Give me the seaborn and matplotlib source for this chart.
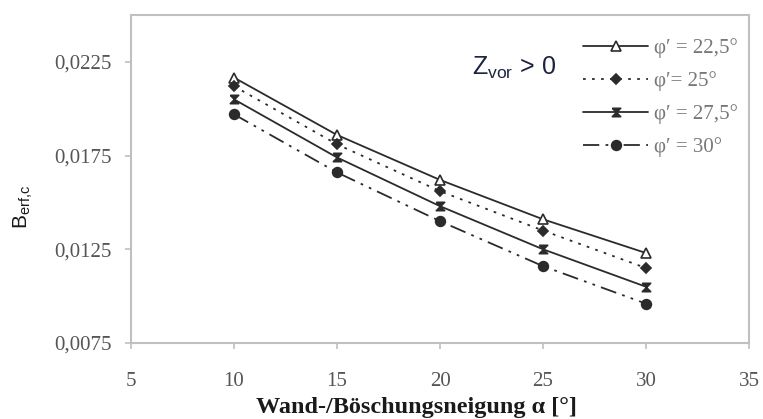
import matplotlib
matplotlib.use("Agg")
import matplotlib.pyplot as plt
import seaborn as sns
import pandas as pd
from matplotlib.ticker import FuncFormatter

# --- Data ---
alpha = [10, 15, 20, 25, 30]
b_phi_225 = [0.02166, 0.0186, 0.0162, 0.0141, 0.0123]
b_phi_25 = [0.0212, 0.0181, 0.0156, 0.0135, 0.0115]
b_phi_275 = [0.0205, 0.0174, 0.0148, 0.0125, 0.0105]
b_phi_30 = [0.0197, 0.0166, 0.0140, 0.0116, 0.0096]
labels = ["φ′ = 22,5°", "φ′= 25°", "φ′ = 27,5°", "φ′ = 30°"]
x_ticks = [5, 10, 15, 20, 25, 30, 35]
y_ticks = [0.0075, 0.0125, 0.0175, 0.0225]

sns.set_style("ticks")
plt.rcParams['font.family'] = ['Liberation Serif', 'DejaVu Serif']
plt.rcParams['mathtext.fontset'] = 'custom'
plt.rcParams['mathtext.rm'] = 'Liberation Sans'

fig = plt.figure(figsize=(7.63, 4.19), dpi=100)
ax = fig.add_axes([0.1717, 0.1814, 0.81, 0.7828])

line_col = "#2b2b2b"
hourglass = [(-1, 1), (1, 1), (-1, -1), (1, -1), (-1, 1)]
styles = [
    dict(marker='^', markerfacecolor='white', markersize=7, linestyle='-'),
    dict(marker='D', markerfacecolor=line_col, markersize=5.5, linestyle=(0, (1.5, 3.5))),
    dict(marker=hourglass, markerfacecolor=line_col, markersize=6, linestyle='-'),
    dict(marker='o', markerfacecolor=line_col, markersize=7, linestyle=(0, (9, 3.5, 1.5, 3.5, 1.5, 3.5))),
]
series = [b_phi_225, b_phi_25, b_phi_275, b_phi_30]

for vals, lab, st in zip(series, labels, styles):
    df = pd.DataFrame({'alpha': alpha, 'B': vals})
    sns.lineplot(data=df, x='alpha', y='B', ax=ax, color=line_col, lw=1.3,
                 markeredgecolor=line_col, markeredgewidth=1.2, label=lab, **st)

ax.set_xlim(5, 35)
ax.set_ylim(0.0075, 0.025)
ax.set_xticks(x_ticks)
ax.set_yticks(y_ticks)
ax.xaxis.set_major_formatter(FuncFormatter(lambda v, p: f"{v:.0f}"))
ax.yaxis.set_major_formatter(FuncFormatter(lambda v, p: f"{v:.4f}".replace('.', ',')))
ax.tick_params(axis='both', colors='#c0c0c0', labelcolor='#555555', labelsize=15,
               length=4, width=1.2, direction='out', pad=10)
ax.tick_params(axis='x', pad=17)
for sp in ax.spines.values():
    sp.set_color('#c0c0c0')
    sp.set_linewidth(1.5)

ax.set_xlabel("Wand-/Böschungsneigung α [°]", fontsize=17.5, fontweight='bold',
              color='#1a1a1a', labelpad=0)
ax.xaxis.set_label_coords(0.462, -0.165)
ax.set_ylabel(r"$\mathrm{B}_{\mathrm{erf{,}c}}$", fontsize=15, color='#1a1a1a',
              family='Liberation Sans')
ax.yaxis.set_label_coords(-0.156, 0.415)

ax.text(0.552, 0.838, r"$\mathrm{Z}_{\mathrm{vor}}$ > 0", transform=ax.transAxes,
        fontsize=18, family='Liberation Sans', color='#1c2440', va='center')

leg = ax.legend(loc='upper left', bbox_to_anchor=(0.740, 0.953),
                bbox_transform=fig.transFigure, frameon=False, fontsize=15,
                handlelength=3.1, labelspacing=0.63, handletextpad=0.3)
for t in leg.get_texts():
    t.set_color('#777777')

fig.savefig("out.png", dpi=100)
